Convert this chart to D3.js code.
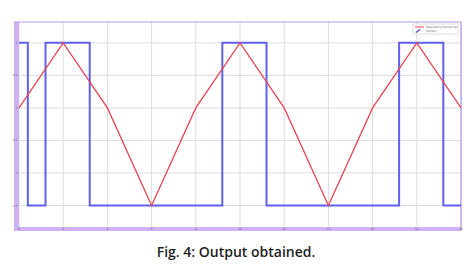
<!DOCTYPE html>
<html>
<head>
<meta charset="utf-8">
<script src="https://cdn.jsdelivr.net/npm/d3@7"></script>
<style>
  body { margin: 0; background: #fff; }
  svg { display: block; }
</style>
</head>
<body>
<div class="graph"></div>
<script>
const width = 474;
const height = 270;
const margin = { top: 22, right: 13, bottom: 43, left: 19 };

// regulating response, sampled at the x ticks
const respTime = [0, 2, 4, 6, 8, 10, 12, 14, 16, 18, 20];
const respValue = [0, 1, 0, -1.5, 0, 1, 0, -1.5, 0, 1, 0];

// output square wave (value holds until the next time)
const outTime = [0, 0.4, 1.2, 3.2, 9.2, 11.2, 17.2, 19.2, 20];
const outValue = [1, -1.5, 1, -1.5, 1, -1.5, 1, -1.5, -1.5];

const xTicks = [0, 2, 4, 6, 8, 10, 12, 14, 16, 18, 20];
const yTicks = [1, 0.5, 0, -0.5, -1, -1.5];
const seriesNames = ["Regulating Response", "Output"];

const canvas = d3.select(".graph")
  .append("svg")
  .attr("width", width)
  .attr("height", height);

const x = d3.scaleLinear()
  .domain([0, 20])
  .range([margin.left, width - margin.right]);

const y = d3.scaleLinear()
  .domain([-1.83, 1.32])
  .range([height - margin.bottom, margin.top]);

const [x0, x1] = x.range();
const [yb, yt] = y.range();

// grid
canvas.append("g")
  .selectAll("line")
  .data(xTicks)
  .enter().append("line")
  .attr("x1", d => x(d)).attr("x2", d => x(d))
  .attr("y1", yt).attr("y2", yb)
  .attr("stroke", "#dcdcdc")
  .attr("stroke-width", 1);

canvas.append("g")
  .selectAll("line")
  .data(yTicks)
  .enter().append("line")
  .attr("x1", x0).attr("x2", x1)
  .attr("y1", d => y(d)).attr("y2", d => y(d))
  .attr("stroke", "#dcdcdc")
  .attr("stroke-width", 1);

// purple frame: thick left and bottom strips, thin top and right
canvas.append("rect")
  .attr("x", x0 - 5).attr("y", yt)
  .attr("width", 5).attr("height", yb - yt + 4)
  .attr("fill", "#cfb2f4");
canvas.append("rect")
  .attr("x", x0 - 5).attr("y", yb)
  .attr("width", x1 - x0 + 5).attr("height", 4)
  .attr("fill", "#cfb2f4");
canvas.append("line")
  .attr("x1", x0 - 5).attr("x2", x1 + 0.5)
  .attr("y1", yt).attr("y2", yt)
  .attr("stroke", "#b896e6").attr("stroke-width", 1.2);
canvas.append("line")
  .attr("x1", x1).attr("x2", x1)
  .attr("y1", yt).attr("y2", yb + 4)
  .attr("stroke", "#b896e6").attr("stroke-width", 1.2);

// tiny tick labels sitting in the strips
canvas.append("g")
  .selectAll("text")
  .data(xTicks)
  .enter().append("text")
  .attr("x", d => x(d))
  .attr("y", yb + 3.4)
  .attr("text-anchor", "middle")
  .attr("font-family", "DejaVu Sans")
  .attr("font-size", 3)
  .attr("fill", "#666")
  .text(d => d);

canvas.append("g")
  .selectAll("text")
  .data(yTicks)
  .enter().append("text")
  .attr("x", x0 - 1.5)
  .attr("y", d => y(d) + 1)
  .attr("text-anchor", "end")
  .attr("font-family", "DejaVu Sans")
  .attr("font-size", 3)
  .attr("fill", "#666")
  .text(d => d);

// series
const outData = outTime.map((t, i) => [t, outValue[i]]);
const respData = respTime.map((t, i) => [t, respValue[i]]);

canvas.append("path")
  .datum(outData)
  .attr("fill", "none")
  .attr("stroke", "#6060f0")
  .attr("stroke-width", 2)
  .attr("d", d3.line().x(d => x(d[0])).y(d => y(d[1])).curve(d3.curveStepAfter));

canvas.append("path")
  .datum(respData)
  .attr("fill", "none")
  .attr("stroke", "#ea4652")
  .attr("stroke-width", 1.3)
  .attr("d", d3.line().x(d => x(d[0])).y(d => y(d[1])));

// legend
const legend = canvas.append("g").attr("transform", `translate(${x1 - 48}, ${yt + 2})`);
legend.append("rect")
  .attr("width", 45).attr("height", 10)
  .attr("fill", "#fff")
  .attr("stroke", "#c8c8c8")
  .attr("stroke-width", 0.6);
legend.append("line")
  .attr("x1", 2).attr("x2", 11).attr("y1", 3).attr("y2", 3)
  .attr("stroke", "#ea4652").attr("stroke-width", 1);
legend.append("line")
  .attr("x1", 3).attr("x2", 7).attr("y1", 8.5).attr("y2", 5.5)
  .attr("stroke", "#4a4ae0").attr("stroke-width", 1.4);
legend.selectAll("text")
  .data(seriesNames)
  .enter().append("text")
  .attr("x", 13)
  .attr("y", (d, i) => 4 + i * 4)
  .attr("font-family", "DejaVu Sans")
  .attr("font-size", 3)
  .attr("fill", "#777")
  .text(d => d);

// caption
canvas.append("text")
  .attr("x", 236)
  .attr("y", 257)
  .attr("text-anchor", "middle")
  .attr("font-family", "Open Sans")
  .attr("font-weight", 600)
  .attr("font-size", 14)
  .attr("fill", "#1f1f1f")
  .text("Fig. 4: Output obtained.");
</script>
</body>
</html>
